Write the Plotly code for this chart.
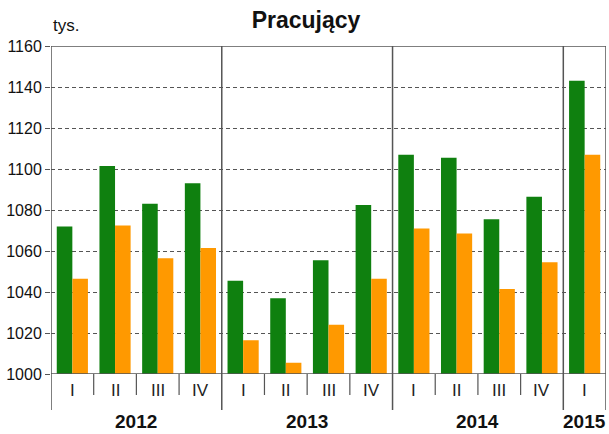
import plotly.graph_objects as go

quarters = ["I", "II", "III", "IV", "I", "II", "III", "IV", "I", "II", "III", "IV", "I"]
years = ["2012", "2013", "2014", "2015"]
quarters_per_year = [4, 4, 4, 1]
series_green = [1072, 1101.5, 1083, 1093, 1045.5, 1037, 1055.5, 1082.5, 1107, 1105.5, 1075.5, 1086.5, 1143]
series_orange = [1046.5, 1072.5, 1056.5, 1061.5, 1016.5, 1005.5, 1024, 1046.5, 1071, 1068.5, 1041.5, 1054.5, 1107]

GREEN = "#0f800f"
ORANGE = "#ff9900"
LINE = "#555555"
FONT = "Liberation Sans, Arial, sans-serif"

x = list(range(len(quarters)))

fig = go.Figure()
fig.add_trace(go.Bar(x=x, y=series_green, marker=dict(color=GREEN, line=dict(width=0)), showlegend=False))
fig.add_trace(go.Bar(x=x, y=series_orange, marker=dict(color=ORANGE, line=dict(width=0)), showlegend=False))

H = 328.0
W = 555.0
shapes = []
annotations = []

# plot frame: top and bottom lines
shapes.append(dict(type="line", xref="paper", yref="y", x0=0, x1=1, y0=1160, y1=1160, line=dict(color=LINE, width=1.5)))
shapes.append(dict(type="line", xref="paper", yref="y", x0=0, x1=1, y0=1000, y1=1000, line=dict(color=LINE, width=1.5)))

# year separators and labels
start = 0
bounds = [-0.5]
for yr, n in zip(years, quarters_per_year):
    annotations.append(dict(x=start + (n - 1) / 2, y=-48 / H, xref="x", yref="paper", text="<b>%s</b>" % yr,
                            showarrow=False, font=dict(size=19, color="#111", family=FONT), yanchor="middle"))
    start += n
    bounds.append(start - 0.5)
for b in bounds:
    shapes.append(dict(type="line", xref="x", yref="paper", x0=b, x1=b, y0=1, y1=-36 / H,
                       line=dict(color=LINE, width=1.5)))

# quarter separators
for i in range(len(quarters) - 1):
    b = i + 0.5
    if b in bounds:
        continue
    shapes.append(dict(type="line", xref="x", yref="paper", x0=b, x1=b, y0=0, y1=-21 / H,
                       line=dict(color=LINE, width=1.2)))

# quarter labels
for i, q in enumerate(quarters):
    annotations.append(dict(x=i, y=-16 / H, xref="x", yref="paper", text=q, showarrow=False,
                            font=dict(size=17, color="#222", family=FONT), yanchor="middle"))

# unit label
annotations.append(dict(x=0, y=1 + 21 / H, xref="paper", yref="paper", text="tys.", showarrow=False,
                        xanchor="left", yanchor="middle", font=dict(size=17, color="#111", family=FONT)))

fig.update_layout(
    width=609, height=434,
    margin=dict(l=51, r=3, t=46, b=60),
    paper_bgcolor="white", plot_bgcolor="white",
    barmode="group", bargap=0.27, bargroupgap=0,
    title=dict(text="<b>Pracujący</b>", x=306 / 609, xanchor="center", y=1 - 20 / 434, yanchor="middle",
               font=dict(size=23, color="#111", family=FONT)),
    xaxis=dict(range=[-0.5, len(quarters) - 0.5], showticklabels=False, ticks="", showgrid=False,
               zeroline=False, showline=False),
    yaxis=dict(range=[1000, 1160], dtick=20, tick0=1000, showgrid=True, gridcolor="#555",
               griddash="4px,3px", gridwidth=1.2, zeroline=False, showline=False,
               ticks="outside", ticklen=5, tickcolor=LINE, tickwidth=1.2,
               tickfont=dict(size=16, color="#111", family=FONT)),
    shapes=shapes,
    annotations=annotations,
)

fig.write_html("out.html", config={"displayModeBar": False},
               post_script="document.body.style.margin='0';document.body.style.padding='0';")
